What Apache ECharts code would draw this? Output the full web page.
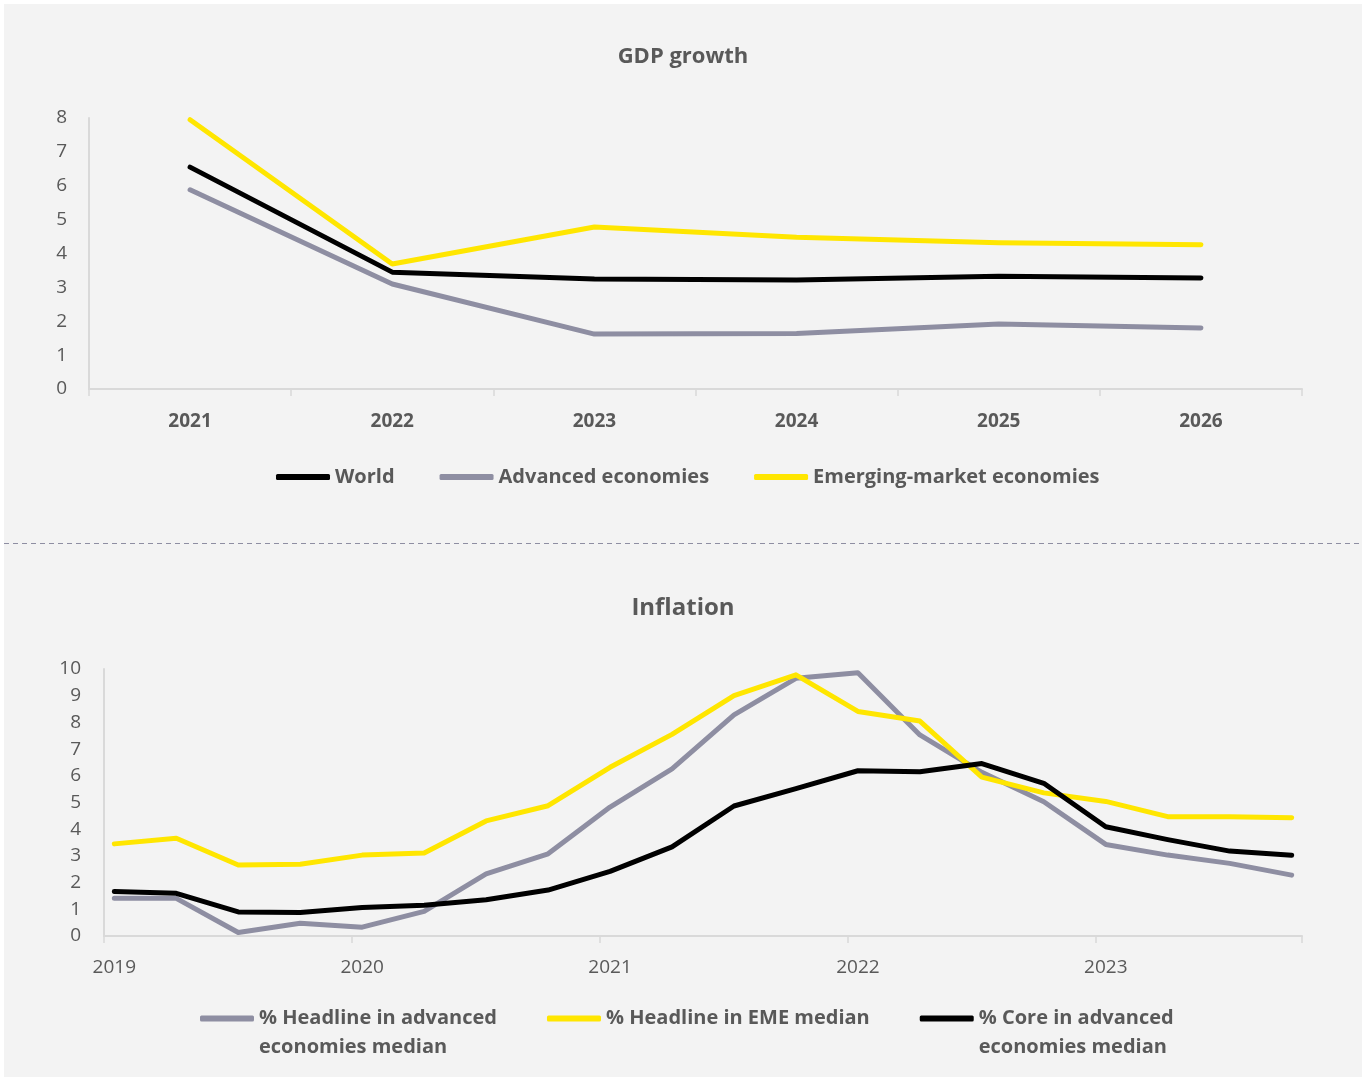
<!DOCTYPE html>
<html>
<head>
<meta charset="utf-8">
<script src="https://cdn.jsdelivr.net/npm/echarts@6/dist/echarts.min.js"></script>
<style>
  html, body { margin: 0; padding: 0; background: #ffffff; }
  #chart { position: absolute; left: 4px; top: 4px; width: 1358px; height: 1073px; background: #f3f3f3; }
</style>
</head>
<body>
<div id="chart"></div>
<script>
// GDP growth, annual (%)
const gdpYears = ['2021', '2022', '2023', '2024', '2025', '2026'];
const gdpWorld = [6.55, 3.45, 3.25, 3.22, 3.33, 3.28];
const gdpAdvanced = [5.88, 3.1, 1.62, 1.64, 1.92, 1.8];
const gdpEmerging = [7.95, 3.69, 4.78, 4.48, 4.32, 4.26];

// Inflation, quarterly (Jan/Apr/Jul/Oct), 2019 Q1 – 2023 Q4 (%)
const inflYears = ['2019', '2020', '2021', '2022', '2023'];
const quarterMonths = [1, 4, 7, 10];
const headlineAdvanced = [1.41, 1.41, 0.13, 0.48, 0.33, 0.92, 2.33, 3.08, 4.83, 6.26,
                          8.28, 9.65, 9.86, 7.53, 6.13, 5.03, 3.43, 3.03, 2.72, 2.28];
const headlineEME = [3.45, 3.66, 2.66, 2.69, 3.03, 3.11, 4.31, 4.88, 6.32, 7.55,
                     9.0, 9.78, 8.41, 8.05, 5.95, 5.36, 5.04, 4.47, 4.47, 4.43];
const coreAdvanced = [1.67, 1.6, 0.9, 0.88, 1.07, 1.15, 1.36, 1.72, 2.42, 3.34,
                      4.87, 5.52, 6.19, 6.15, 6.46, 5.72, 4.09, 3.61, 3.18, 3.02];

// monthly category axis (date-style spacing); quarterly values sit on their months
const months = [];
inflYears.forEach(y => { for (let m = 1; m <= 12; m++) months.push(y + '-' + m); });
const lastMonth = inflYears[inflYears.length - 1] + '-' + quarterMonths[quarterMonths.length - 1];
months.length = months.indexOf(lastMonth) + 1;
const quarterKeys = [];
inflYears.forEach(y => quarterMonths.forEach(m => quarterKeys.push(y + '-' + m)));
function toMonthly(values) {
  return months.map(k => { const i = quarterKeys.indexOf(k); return i >= 0 ? values[i] : null; });
}

const TXT = '#595959';
const AXIS = '#d9d9d9';
const FONT = 'Open Sans';
const C_BLACK = '#000000', C_GREY = '#8e8ea2', C_YELLOW = '#ffe600';

function lineSeries(name, data, color, xi) {
  return {
    name, type: 'line', data, xAxisIndex: xi, yAxisIndex: xi,
    color, symbol: 'none', connectNulls: true,
    lineStyle: { width: 5, color, cap: 'round', join: 'round' },
    emphasis: { disabled: true }, z: 3
  };
}

// wrapped legend labels: a blank leading line keeps the first text line level with the icon
function wrapLegend(name) {
  if (name.indexOf(' advanced economies') < 0) return name;
  return ' \n' + name.replace(' advanced economies', ' advanced\neconomies');
}

const chart = echarts.init(document.getElementById('chart'));
chart.setOption({
  animation: false,
  backgroundColor: '#f3f3f3',
  textStyle: { fontFamily: FONT },
  title: [
    { text: 'GDP growth', left: 'center', top: 42, padding: 0,
      textStyle: { fontFamily: FONT, fontSize: 22, fontWeight: 'bold', color: TXT } },
    { text: 'Inflation', left: 'center', top: 592, padding: 0,
      textStyle: { fontFamily: FONT, fontSize: 24, fontWeight: 'bold', color: TXT } }
  ],
  legend: [
    { left: 272, top: 461, padding: 0, itemWidth: 54, itemHeight: 6, itemGap: 45, icon: 'roundRect',
      textStyle: { fontFamily: FONT, fontSize: 20, fontWeight: 'bold', color: TXT, lineHeight: 24 },
      data: ['World', 'Advanced economies', 'Emerging-market economies'] },
    { left: 196, top: 971, padding: 0, itemWidth: 54, itemHeight: 6, itemGap: 50, icon: 'roundRect',
      textStyle: { fontFamily: FONT, fontSize: 20, fontWeight: 'bold', color: TXT, lineHeight: 29 },
      formatter: wrapLegend,
      data: ['% Headline in advanced economies median', '% Headline in EME median',
             '% Core in advanced economies median'] }
  ],
  grid: [
    { left: 85, right: 60, top: 114, height: 271 },
    { left: 100, right: 60, top: 665, height: 267 }
  ],
  xAxis: [
    { type: 'category', gridIndex: 0, data: gdpYears, boundaryGap: true,
      axisLine: { show: true, lineStyle: { color: AXIS, width: 2 } },
      axisTick: { show: true, length: 7, lineStyle: { color: AXIS, width: 1.5 } },
      axisLabel: { margin: 23, fontFamily: FONT, fontSize: 19, fontWeight: 'bold', color: TXT },
      splitLine: { show: false } },
    { type: 'category', gridIndex: 1, data: months, boundaryGap: true,
      axisLine: { show: true, lineStyle: { color: AXIS, width: 2 } },
      axisTick: { show: true, length: 7, interval: i => i % 12 === 0, lineStyle: { color: AXIS, width: 1.5 } },
      axisLabel: { margin: 22, interval: i => i % 12 === 0, formatter: v => v.split('-')[0],
                   fontFamily: FONT, fontSize: 19, color: TXT },
      splitLine: { show: false } }
  ],
  yAxis: [
    { type: 'value', gridIndex: 0, min: 0, max: 8, interval: 1,
      axisLine: { show: true, lineStyle: { color: AXIS, width: 2 } },
      axisTick: { show: false }, splitLine: { show: false },
      axisLabel: { margin: 22, fontFamily: FONT, fontSize: 19, color: TXT } },
    { type: 'value', gridIndex: 1, min: 0, max: 10, interval: 1,
      axisLine: { show: true, lineStyle: { color: AXIS, width: 2 } },
      axisTick: { show: false }, splitLine: { show: false },
      axisLabel: { margin: 23, fontFamily: FONT, fontSize: 19, color: TXT } }
  ],
  graphic: [
    { type: 'line', shape: { x1: 0, y1: 539.5, x2: 1358, y2: 539.5 },
      style: { stroke: '#8e8ea2', lineWidth: 1, lineDash: [5, 4] }, silent: true }
  ],
  series: [
    lineSeries('World', gdpWorld, C_BLACK, 0),
    lineSeries('Advanced economies', gdpAdvanced, C_GREY, 0),
    lineSeries('Emerging-market economies', gdpEmerging, C_YELLOW, 0),
    lineSeries('% Headline in advanced economies median', toMonthly(headlineAdvanced), C_GREY, 1),
    lineSeries('% Headline in EME median', toMonthly(headlineEME), C_YELLOW, 1),
    lineSeries('% Core in advanced economies median', toMonthly(coreAdvanced), C_BLACK, 1)
  ]
});
</script>
</body>
</html>
